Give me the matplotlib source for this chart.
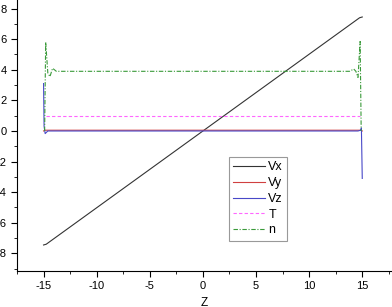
import matplotlib
matplotlib.use("Agg")
import matplotlib.pyplot as plt
from matplotlib.ticker import MultipleLocator

plt.rcParams['font.family'] = ['Liberation Sans', 'DejaVu Sans']
plt.rcParams['axes.unicode_minus'] = False

# data
z_vx = [-15.0, -14.75, 14.75, 15.0]
vx = [-7.45, -7.40, 7.40, 7.45]

z_vy = [-15.0, -14.9, -14.7, 0.0, 14.7, 14.9, 15.0]
vy = [0.0, 0.05, 0.05, 0.05, 0.05, 0.05, 0.0]

z_vz = [-15.0, -14.95, -14.85, -14.6, 0.0, 14.6, 14.85, 14.92, 15.0]
vz = [3.1, 0.3, -0.17, 0.0, 0.0, 0.0, 0.05, 0.2, -3.1]

z_t = [-14.75, 14.8]
t = [0.95, 0.95]

z_n = [-14.9, -14.8, -14.6, -14.4, -14.15, -13.8, 0.0, 13.8, 14.2, 14.4, 14.6, 14.8, 14.9]
n = [0.0, 5.8, 3.8, 3.55, 4.1, 3.9, 3.9, 3.9, 4.05, 3.9, 3.5, 5.85, 0.0]

fig = plt.figure(figsize=(3.92, 3.07), dpi=100)
ax = fig.add_axes([17/392, 36/307, 375/392, 271/307])

ax.plot(z_vx, vx, color='#333333', lw=0.8, label='Vx')
ax.plot(z_vy, vy, color='#d04040', lw=0.8, label='Vy')
ax.plot(z_vz, vz, color='#4848c8', lw=0.8, label='Vz')
ax.plot(z_t, t, color='#ff66ff', lw=0.8, ls=(0, (3, 2)), label='T')
ax.plot(z_n, n, color='#3a9a3a', lw=0.8, ls=(0, (4, 1.5, 1, 1.5)), label='n')

ax.set_xlim(-17.5, 17.8)
ax.set_ylim(-9.15, 8.56)
ax.spines['top'].set_visible(False)
ax.spines['right'].set_visible(False)
ax.xaxis.set_major_locator(MultipleLocator(5))
ax.xaxis.set_minor_locator(MultipleLocator(2.5))
ax.yaxis.set_major_locator(MultipleLocator(2))
ax.yaxis.set_minor_locator(MultipleLocator(1))
ax.tick_params(which='both', direction='out', labelsize=8)
ax.tick_params(which='major', length=4)
ax.tick_params(which='minor', length=2.5)
ax.set_xlabel('Z', fontsize=8.5, labelpad=4)

leg = ax.legend(loc='upper left', bbox_to_anchor=(212/375, 1 - 157/271), fontsize=9,
                frameon=True, fancybox=False, edgecolor='#808080', borderpad=0.35,
                handlelength=2.5, labelspacing=0.3, handletextpad=0.3, borderaxespad=0)
leg.get_frame().set_linewidth(0.8)

fig.savefig('out.png', dpi=100)
